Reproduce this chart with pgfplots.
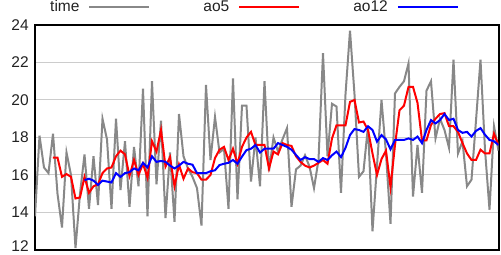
\documentclass[border=0pt]{standalone}
\usepackage{fontspec}
\setmainfont{Liberation Sans}
\usepackage{pgfplots}
\usepackage{pgfplotstable}
\pgfplotsset{compat=1.18}
\definecolor{greyline}{RGB}{136,136,136}
\definecolor{gridc}{RGB}{204,204,204}
\definecolor{txt}{RGB}{34,34,34}

\pgfplotstableread{
i v
0 13.8
1 18.1
2 16.4
3 16.1
4 18.2
5 15.0
6 13.2
7 17.2
8 16.0
9 12.1
10 15.0
11 17.1
12 14.2
13 17.0
14 14.4
15 19.0
16 17.9
17 14.2
18 19.0
19 15.2
20 17.8
21 14.3
22 17.5
23 15.4
24 20.6
25 13.8
26 21.0
27 15.5
28 18.9
29 13.7
30 17.2
31 13.5
32 19.25
33 17.0
34 16.35
35 15.9
36 15.3
37 13.3
38 20.8
39 16.8
40 19.1
41 17.2
42 17.4
43 14.2
44 21.15
45 14.7
46 19.7
47 19.7
48 15.65
49 18.0
50 15.4
51 21.0
52 16.2
53 18.0
54 17.25
55 17.9
56 18.5
57 14.3
58 16.3
59 16.5
60 17.05
61 16.45
62 15.3
63 16.8
64 22.5
65 17.0
66 19.8
67 19.65
68 15.05
69 20.3
70 23.7
71 20.3
72 15.9
73 16.2
74 18.6
75 13.0
76 16.5
77 20.0
78 17.15
79 13.4
80 20.35
81 20.7
82 21.0
83 21.95
84 14.85
85 17.6
86 15.05
87 20.5
88 21.0
89 17.95
90 19.0
91 18.4
92 17.45
93 22.15
94 17.15
95 17.8
96 15.4
97 15.75
98 18.9
99 22.15
100 17.35
101 14.15
102 18.6
103 17.3
}\timedata

\pgfplotstableread{
i v
4 16.93
5 16.93
6 15.9
7 16.05
8 15.9
9 14.75
10 14.8
11 15.9
12 15.05
13 15.4
14 15.5
15 16.1
16 16.35
17 16.4
18 17.0
19 17.3
20 17.1
21 15.95
22 16.8
23 16.0
24 16.6
25 15.85
26 17.8
27 17.25
28 18.4
29 16.45
30 16.95
31 15.4
32 16.55
33 15.8
34 16.35
35 16.15
36 16.1
37 15.75
38 15.75
39 16.0
40 16.9
41 17.35
42 17.5
43 16.8
44 17.4
45 16.6
46 17.5
47 18.0
48 18.3
49 17.6
50 17.6
51 17.6
52 16.35
53 17.25
54 17.1
55 17.7
56 17.6
57 17.55
58 17.0
59 16.7
60 16.5
61 16.4
62 16.5
63 16.65
64 16.8
65 16.6
66 17.95
67 18.65
68 18.65
69 18.65
70 19.9
71 20.0
72 18.8
73 18.85
74 18.4
75 17.15
76 16.0
77 16.85
78 17.3
79 15.35
80 17.6
81 19.45
82 19.7
83 20.7
84 20.7
85 19.85
86 17.85
87 17.85
88 18.67
89 19.0
90 19.25
91 19.3
92 18.6
93 18.6
94 18.3
95 17.7
96 17.15
97 16.8
98 16.8
99 17.35
100 17.15
101 17.15
102 18.2
103 17.6
}\aofive

\pgfplotstableread{
i v
11 15.73
12 15.8
13 15.7
14 15.47
15 15.7
16 15.65
17 15.6
18 16.1
19 15.9
20 16.1
21 16.15
22 16.35
23 16.25
24 16.65
25 16.4
26 17.0
27 16.7
28 16.75
29 16.7
30 16.5
31 16.35
32 16.5
33 16.7
34 16.6
35 16.55
36 16.1
37 16.1
38 16.1
39 16.2
40 16.25
41 16.53
42 16.6
43 16.65
44 16.8
45 16.6
46 16.98
47 17.33
48 17.4
49 17.6
50 17.2
51 17.4
52 17.4
53 17.4
54 17.7
55 17.6
56 17.5
57 17.35
58 17.07
59 16.8
60 16.95
61 16.85
62 16.85
63 16.7
64 16.9
65 16.8
66 17.05
67 17.25
68 16.95
69 17.45
70 18.13
71 18.45
72 18.4
73 18.3
74 18.6
75 18.4
76 17.78
77 18.13
78 17.9
79 17.37
80 17.87
81 17.87
82 17.87
83 17.95
84 17.87
85 18.05
86 17.7
87 18.4
88 18.93
89 18.75
90 18.93
91 19.25
92 18.93
93 19.0
94 18.4
95 18.25
96 18.3
97 18.05
98 18.35
99 18.5
100 18.15
101 17.87
102 17.8
103 17.6
}\aotwelve

\begin{document}
\fontsize{15.5bp}{18bp}\selectfont
\begin{tikzpicture}
\begin{axis}[
  name=ax,
  at={(0,0)}, anchor=south west,
  width=463.5bp, height=225bp, scale only axis,
  xmin=0, xmax=103, ymin=12, ymax=24,
  ytick={12,14,16,18,20,22,24},
  yticklabels={\raisebox{4bp}[\height][\depth]{12},14,16,18,20,22,24},
  xtick=\empty,
  ymajorgrids,
  major grid style={gridc, line width=1bp},
  axis line style={black, line width=2bp},
  major tick length=0pt,
  /pgf/number format/assume math mode=true,
  tick label style={font=\fontsize{15.5bp}{18bp}\selectfont, text=txt},
  yticklabel style={xshift=-1bp},
  legend columns=3,
  legend plot pos=right,
  legend image code/.code={\draw[#1] (0bp,0bp) -- (60bp,0bp);},
  legend style={draw=none, fill=none, at={(0,1)}, anchor=west,
    xshift=13bp, yshift=18bp, inner sep=0pt,
    font=\fontsize{15.5bp}{18bp}\selectfont, text=txt,
    /tikz/every odd column/.append style={column sep=7bp},
    /tikz/every even column/.append style={column sep=51bp}},
  clip=true,
]
\addplot[greyline, line width=2bp] table[x=i, y=v] {\timedata};
\addlegendentry{time}
\addplot[red, line width=2bp] table[x=i, y=v] {\aofive};
\addlegendentry{ao5}
\addplot[blue, line width=2bp] table[x=i, y=v] {\aotwelve};
\addlegendentry{ao12}
\end{axis}
\pgfresetboundingbox
\path[use as bounding box] ([xshift=-35bp, yshift=-5bp]ax.south west) rectangle ([xshift=2.5bp, yshift=25bp]ax.north east);
\end{tikzpicture}
\end{document}
